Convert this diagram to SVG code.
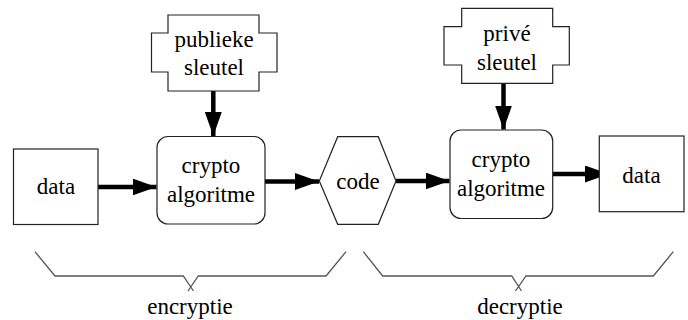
<svg xmlns="http://www.w3.org/2000/svg" width="688" height="320" viewBox="0 0 688 320">
<style>
.s{fill:#fff;stroke:#222;stroke-width:1.2}
.c{fill:none;stroke:#000;stroke-width:4.5}
.b{fill:none;stroke:#555;stroke-width:1.3}
</style>
<defs>
<marker id="ah" markerUnits="userSpaceOnUse" markerWidth="25" markerHeight="18" refX="24" refY="8.5" orient="auto">
<path d="M0,0 L24,8.5 L0,17 Z" fill="#000"/>
</marker>
</defs>
<g id="connectors">
<line class="c" x1="98" y1="187" x2="156.5" y2="187" marker-end="url(#ah)"/>
<line class="c" x1="265" y1="181.5" x2="319" y2="181.5" marker-end="url(#ah)"/>
<line class="c" x1="396" y1="181" x2="449.5" y2="181" marker-end="url(#ah)"/>
<line class="c" x1="553" y1="174" x2="609" y2="174" marker-end="url(#ah)"/>
<line class="c" x1="213.3" y1="91" x2="213.3" y2="136" marker-end="url(#ah)"/>
<line class="c" x1="503.5" y1="83" x2="503.5" y2="129.5" marker-end="url(#ah)"/>
</g>
<g font-family="Liberation Serif, Times New Roman, serif" font-size="23" fill="#000" text-anchor="middle">
<g id="data1">
<rect class="s" x="13.5" y="149" width="84.5" height="75.5"/>
<text x="56" y="194">data</text>
</g>
<g id="publieke">
<path class="s" d="M168,15 H259 V33 H277 V72 H259 V91 H168 V72 H151.5 V33 H168 Z"/>
<text x="214" y="47">publieke</text>
<text x="214" y="75">sleutel</text>
</g>
<g id="crypto1">
<rect class="s" x="157" y="136.5" width="108" height="87.5" rx="11"/>
<text x="211" y="173">crypto</text>
<text x="211" y="201.5">algoritme</text>
</g>
<g id="code">
<path class="s" d="M337.7,136.7 H378.3 L396,181 L378.3,224.3 H337.7 L319.3,181 Z"/>
<text x="358" y="188.5">code</text>
</g>
<g id="prive">
<path class="s" d="M461.7,8.3 H552.7 V26.7 H569.3 V65 H552.7 V83.3 H461.7 V65 H444 V26.7 H461.7 Z"/>
<text x="507" y="41">privé</text>
<text x="507" y="70">sleutel</text>
</g>
<g id="crypto2">
<rect class="s" x="450" y="130" width="102.7" height="88.5" rx="11"/>
<text x="501" y="167">crypto</text>
<text x="501" y="195.5">algoritme</text>
</g>
<g id="data2">
<rect class="s" x="599.3" y="136" width="84.7" height="75.7"/>
<text x="641.5" y="183">data</text>
</g>
<g id="encryptie">
<path class="b" d="M35,251.7 L55,276 H183.3 L193.5,291 M188,291 L198.3,276 H326 L346,251.7"/>
<text x="190" y="314">encryptie</text>
</g>
<g id="decryptie">
<path class="b" d="M363.3,251.7 L382.7,276 H511.7 L521.5,291 M515.5,291 L526,276 H653.3 L673.3,251.7"/>
<text x="520" y="314">decryptie</text>
</g>
</g>
</svg>
